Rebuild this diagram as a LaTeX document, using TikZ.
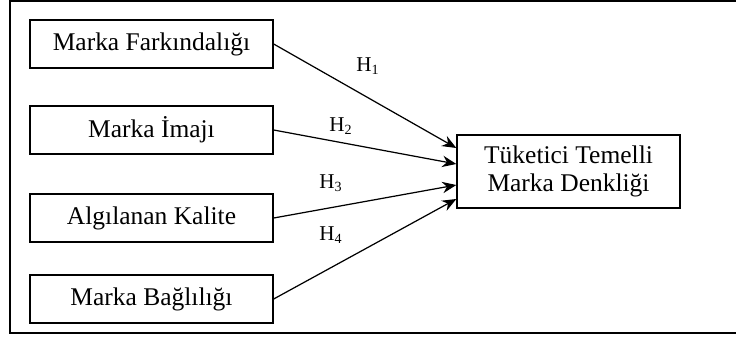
\documentclass[tikz,border=0pt]{standalone}
\usepackage{fontspec}
\setmainfont{Liberation Serif}
\usepackage{tikz}
\usetikzlibrary{positioning, arrows.meta}

\tikzset{
  kutu/.style={draw, line width=0.8pt, inner sep=0pt, align=center,
    font=\fontsize{14.5}{15.5}\selectfont},
  boyut/.style={kutu, minimum width=4.86cm, minimum height=0.96cm},
  sonuc/.style={kutu, minimum width=4.46cm, minimum height=1.46cm},
  hip/.style={font=\fontsize{12}{14}\selectfont, inner sep=0pt}
}

\begin{document}
\begin{tikzpicture}[->, >={Stealth[length=8pt, width=6.5pt]}, x=0.02cm, y=-0.02cm, line width=0.7pt]
      \useasboundingbox (0,0) rectangle (736,338);
      \draw[-, line width=0.8pt] (10,1) rectangle (760,333);
      % sol kutular
      \node[boyut] (fark)   at (151.5,44)  {Marka Farkındalığı};
      \node[boyut] (imaj)   at (151.5,130) {Marka İmajı};
      \node[boyut] (kalite) at (151.5,218) {Algılanan Kalite};
      \node[boyut] (bagl)   at (151.5,299) {Marka Bağlılığı};
      % sag kutu
      \node[sonuc] (denk)   at (568.5,171.5) {Tüketici Temelli\\Marka Denkliği};
      \coordinate (d1) at ([yshift=0.47cm]denk.west);
      \coordinate (d2) at ([yshift=0.15cm]denk.west);
      \coordinate (d3) at ([yshift=-0.27cm]denk.west);
      \coordinate (d4) at ([yshift=-0.55cm]denk.west);
      \draw (fark.east)   -- (d1);
      \draw (imaj.east)   -- (d2);
      \draw (kalite.east) -- (d3);
      \draw (bagl.east)   -- (d4);
      % hipotezler
      \node[hip] (h1) at (368,66)  {H\textsubscript{1}};
      \node[hip] (h2) at (341,126) {H\textsubscript{2}};
      \node[hip] (h3) at (331,183) {H\textsubscript{3}};
      \node[hip] (h4) at (331,235) {H\textsubscript{4}};
\end{tikzpicture}
\end{document}
